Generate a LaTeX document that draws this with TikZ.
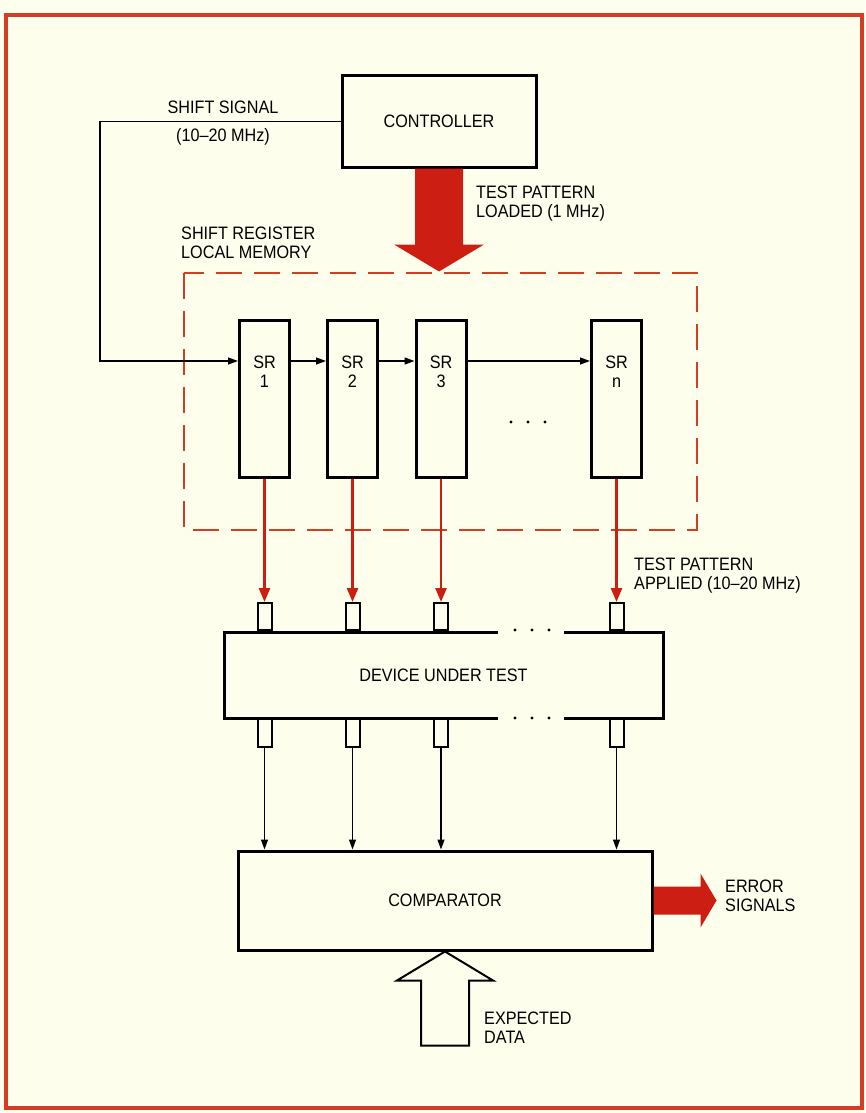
\documentclass[tikz,border=0pt]{standalone}
\usepackage{fontspec}
\setmainfont{Liberation Sans}[FakeStretch=0.9]
\usepackage{tikz}
\usetikzlibrary{arrows.meta}
\definecolor{paper}{RGB}{254,254,236}
\definecolor{framered}{RGB}{212,60,35}
\definecolor{arrowred}{RGB}{205,30,20}

\begin{document}
\begin{tikzpicture}[x=1pt,y=-1pt,
    lbl/.style={font=\fontsize{18}{19}\selectfont,align=left,inner sep=0pt},
    box/.style={draw,line width=3pt,fill=paper,inner sep=0pt,font=\fontsize{18}{19}\selectfont},
    pin/.style={draw,line width=2pt,fill=paper,minimum width=14pt,inner sep=0pt},
    sig/.style={line width=1.3pt,-{Triangle[length=10pt,width=7pt]}},
    load/.style={draw=arrowred,line width=2.6pt,-{Triangle[length=14pt,width=11pt]}}]
    \fill[paper](0,0) rectangle (865,1113);
    \draw[framered,line width=4pt](6,15) rectangle (862,1108);
    \draw[framered,line width=2.2pt,dash pattern=on 26pt off 12pt](184,273) rectangle (697,530);
    \node[box,minimum width=194pt,minimum height=91pt] at (439,121.5) (ctrl) {CONTROLLER};
    \node[box,minimum width=414pt,minimum height=99pt] at (445,900.5) (cmp) {COMPARATOR};
    \foreach\i/\x/\k in{1/264.5/1,2/352.5/2,3/441/3,4/616.5/n}{
        \node[box,minimum width=50pt,minimum height=157pt] at (\x,398.5) (sr\i) {};
        \node[lbl,align=center] at (\x,372) (srl\i) {SR\\\k};
        \node[pin,minimum height=27pt] at (\x,616.5) (pt\i) {};
        \node[pin,minimum height=29pt] at (\x,732.5) (pb\i) {};
    }
    \node[box,minimum width=439pt,minimum height=86pt] at (443.5,675) (dut) {DEVICE UNDER TEST};
    \fill[paper] (498,626) rectangle (564,638);
    \fill[paper] (498,712) rectangle (564,724);
    \foreach\d in{515,532,549}{
        \fill(\d,630) circle (1.6pt);
        \fill(\d,718) circle (1.6pt);
        \fill(\d-4,422) circle (1.6pt);
    }
    \foreach\i in{1,...,4}{
        \draw[load](sr\i.south) -- (pt\i.north);
        \draw[sig](pb\i.south) -- (pb\i.south |- cmp.north);
    }
    \foreach\i/\j in{1/2,2/3,3/4}{
        \draw[sig]([yshift=37.5pt]sr\i.east) -- ([yshift=37.5pt]sr\j.west);
    }
    \draw[sig](ctrl.west) -| (100,361) -- ([yshift=37.5pt]sr1.west);
    % wide arrows
    \fill[arrowred]([xshift=-24pt]ctrl.south) -- ++(0,76) -- ++(-21,0) -- ++(45,27) -- ++(45,-27) -- ++(-21,0) -- ++(0,-76) -- cycle;
    \fill[arrowred](cmp.east) ++(0,-14) -- ++(47,0) -- ++(0,-13) -- ++(16,27) -- ++(-16,27) -- ++(0,-13) -- ++(-47,0) -- cycle;
    \draw[line width=2pt,fill=paper,line join=miter](cmp.south) -- ++(48,29) -- ++(-24,0) -- ++(0,65) -- ++(-48,0) -- ++(0,-65) -- ++(-24,0) -- cycle;
    \node[lbl] at (223,107) (sig) {SHIFT SIGNAL};
    \node[lbl] at (223,137) (rate) {(10--20 MHz)};
    \node[lbl,anchor=west] at (476,203.5) (ldd) {TEST PATTERN\\LOADED (1 MHz)};
    \node[lbl,anchor=west] at (181,243) (mem) {SHIFT REGISTER\\LOCAL MEMORY};
    \node[lbl,anchor=west] at (634,575.5) (apl) {TEST PATTERN\\APPLIED (10--20 MHz)};
    \node[lbl,anchor=west] at (725,896) (err) {ERROR\\SIGNALS};
    \node[lbl,anchor=west] at (484,1028) (exp) {EXPECTED\\DATA};
\end{tikzpicture}
\end{document}
